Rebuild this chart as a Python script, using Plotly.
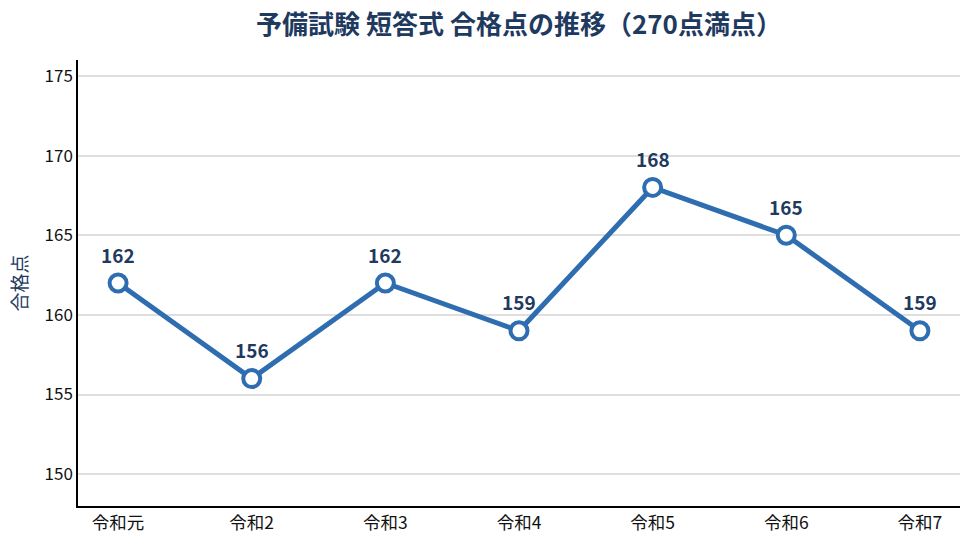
import plotly.graph_objects as go

categories = ["令和元", "令和2", "令和3", "令和4", "令和5", "令和6", "令和7"]
scores = [162, 156, 162, 159, 168, 165, 159]
y_ticks = [150, 155, 160, 165, 170, 175]

font_family = "Noto Sans CJK JP"
navy = "#1f3a5f"
blue = "#2e6db0"

xs = list(range(len(categories)))

fig = go.Figure()
fig.add_trace(go.Scatter(
    x=xs, y=scores,
    mode="lines+markers",
    line=dict(color=blue, width=5),
    marker=dict(size=17, color="white", line=dict(color=blue, width=4)),
    cliponaxis=False,
    hoverinfo="skip",
))

for xv, v in zip(xs, scores):
    fig.add_annotation(
        x=xv, y=v, text=f"<b>{v}</b>", showarrow=False,
        yshift=29, font=dict(family=font_family, size=19, color=navy),
    )

fig.update_layout(
    width=973, height=546,
    margin=dict(l=78, r=13, t=60, b=37),
    paper_bgcolor="white", plot_bgcolor="white",
    font=dict(family=font_family, size=16, color="#111111"),
    title=dict(text="<b>予備試験 短答式 合格点の推移（270点満点）</b>",
               x=0.5, xref="paper", xanchor="center", y=0.955, yanchor="middle",
               font=dict(family=font_family, size=26, color=navy)),
    showlegend=False,
)
fig.update_xaxes(
    range=[-0.3, 6.3], tickmode="array",
    tickvals=xs, ticktext=categories,
    showgrid=False, showline=True, linecolor="black", linewidth=1.5,
    ticks="", tickfont=dict(size=17.5, color="#111111"), zeroline=False,
)
fig.update_yaxes(
    range=[148, 176], tickmode="array", tickvals=y_ticks,
    showgrid=True, gridcolor="#dedede", gridwidth=1.5,
    showline=True, linecolor="black", linewidth=1.5,
    ticks="", tickfont=dict(size=17, color="#111111"), zeroline=False,
    title=dict(text="合格点", font=dict(size=19, color=navy), standoff=12),
)

fig.write_html("out.html")
